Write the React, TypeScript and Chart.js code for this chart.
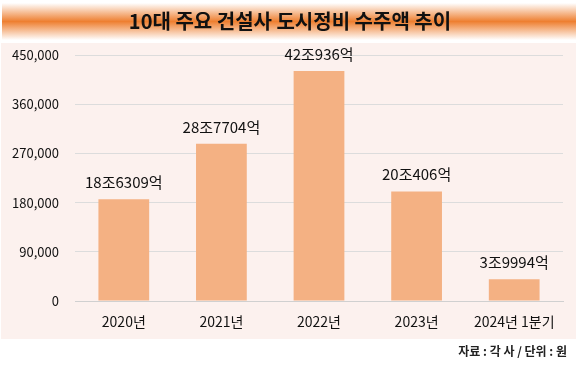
import React, { useEffect, useRef } from "react";
import { Chart, registerables } from "chart.js";

Chart.register(...registerables);

const title = "10대 주요 건설사 도시정비 수주액 추이";
const source = "자료 : 각 사 / 단위 : 원";
const categories = ["2020년", "2021년", "2022년", "2023년", "2024년 1분기"];
const values = [186309, 287704, 420936, 200406, 39994];
const valueLabels = ["18조6309억", "28조7704억", "42조936억", "20조406억", "3조9994억"];
const yMax = 450000;
const yStep = 90000;

const FONT = "'Noto Sans CJK KR', 'Noto Sans', sans-serif";

export default function App() {
  const ref = useRef<HTMLCanvasElement | null>(null);

  useEffect(() => {
    document.body.style.margin = "0";
    const canvas = ref.current;
    if (!canvas) return;

    const bgPlugin = {
      id: "bg",
      beforeDraw(chart: any) {
        const ctx = chart.ctx;
        ctx.save();
        ctx.fillStyle = "#ffffff";
        ctx.fillRect(0, 0, 580, 366);
        // title band
        const g = ctx.createLinearGradient(0, 3, 0, 40);
        g.addColorStop(0, "#ffffff");
        g.addColorStop(0.5, "#ee7f30");
        g.addColorStop(1, "#ffffff");
        ctx.fillStyle = g;
        ctx.fillRect(2, 3, 574, 37);
        // panel
        ctx.fillStyle = "#fcf1ee";
        ctx.fillRect(1, 43, 575, 296);
        // title text
        ctx.fillStyle = "#111111";
        ctx.font = `bold 20px ${FONT}`;
        ctx.textAlign = "center";
        ctx.textBaseline = "middle";
        ctx.fillText(title, 290, 21);
        // source
        ctx.font = `bold 12px ${FONT}`;
        ctx.textAlign = "right";
        ctx.fillStyle = "#222222";
        ctx.fillText(source, 567, 351);
        ctx.restore();
      },
      afterDatasetsDraw(chart: any) {
        const ctx = chart.ctx;
        const meta = chart.getDatasetMeta(0);
        ctx.save();
        ctx.fillStyle = "#111111";
        ctx.font = `15px ${FONT}`;
        ctx.textAlign = "center";
        ctx.textBaseline = "alphabetic";
        meta.data.forEach((bar: any, i: number) => {
          ctx.fillText(valueLabels[i], bar.x, bar.y - 11);
        });
        ctx.restore();
      },
    };

    const chart = new Chart(canvas, {
      type: "bar",
      data: {
        labels: categories,
        datasets: [
          {
            data: values,
            backgroundColor: "#f4b183",
            categoryPercentage: 1,
            barPercentage: 0.52,
          },
        ],
      },
      options: {
        responsive: false,
        animation: false,
        layout: { padding: { left: 0, right: 17, top: 55, bottom: 0 } },
        plugins: {
          legend: { display: false },
          tooltip: { enabled: false },
          title: { display: false },
        },
        scales: {
          x: {
            grid: { display: false, drawTicks: false },
            border: { display: true, color: "#d0d0d0", width: 1 },
            ticks: {
              color: "#111111",
              font: { family: FONT, size: 14 },
              padding: 12,
              maxRotation: 0,
              autoSkip: false,
            },
            afterFit(scale: any) {
              scale.height = 65;
            },
          },
          y: {
            min: 0,
            max: yMax,
            grid: { color: "#dcdcdc", drawTicks: false },
            border: { display: false },
            ticks: {
              stepSize: yStep,
              color: "#111111",
              font: { family: FONT, size: 13 },
              padding: 16,
              callback: (v: any) => Number(v).toLocaleString("en-US"),
            },
            afterFit(scale: any) {
              scale.width = 75;
            },
          },
        },
      },
      plugins: [bgPlugin],
    });

    return () => chart.destroy();
  }, []);

  return (
    <div style={{ width: 580, height: 366 }}>
      <canvas ref={ref} width={580} height={366} style={{ display: "block" }} />
    </div>
  );
}
